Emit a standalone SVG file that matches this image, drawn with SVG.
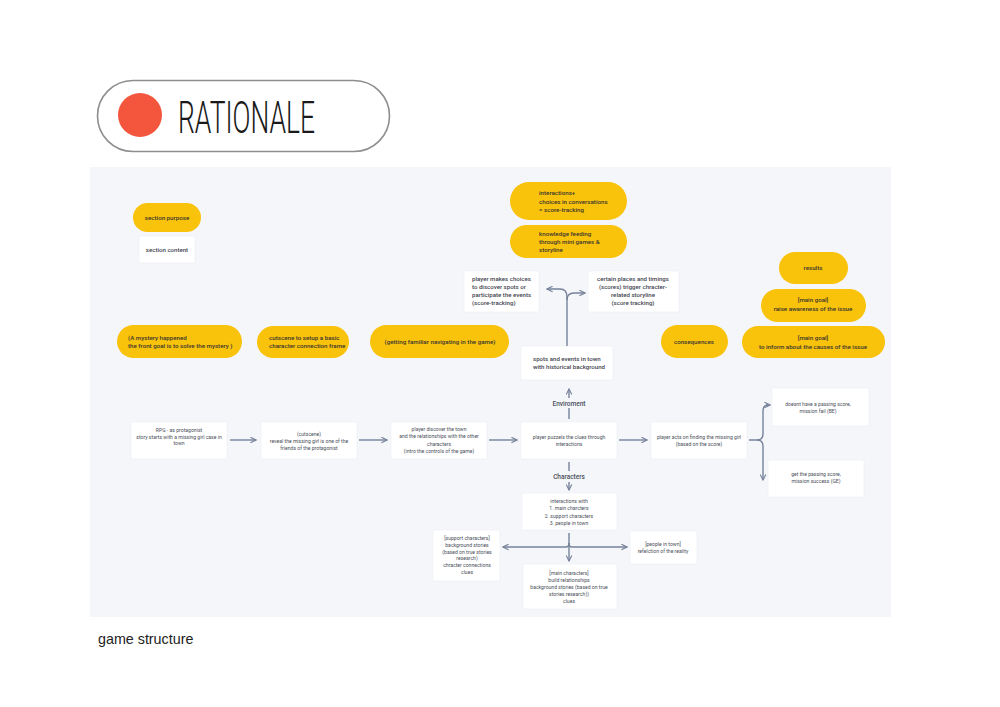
<svg xmlns="http://www.w3.org/2000/svg" width="1000" height="707" viewBox="0 0 1000 707">
<defs>
<style>
.pill{fill:#F9C20B;}
.box{fill:#FFFFFF;stroke:#ECEEF3;stroke-width:0.6;}
.pt{font-family:Roboto,"Liberation Sans",sans-serif;font-size:6.2px;fill:#3A3630;font-weight:500;}
.bt{font-family:Roboto,"Liberation Sans",sans-serif;font-size:5.1px;fill:#4A4F5A;}
.bt6{font-family:Roboto,"Liberation Sans",sans-serif;font-size:6.1px;fill:#3F4450;font-weight:500;}
.lbl{font-family:Roboto,"Liberation Sans",sans-serif;font-size:6.5px;fill:#4A4F5A;font-weight:500;}
.c{fill:none;stroke:#76839A;stroke-width:1.4;}
.ca{fill:none;stroke:#76839A;stroke-width:1.4;marker-end:url(#ah);}
</style>
<marker id="ah" viewBox="0 0 10 10" refX="9" refY="5" markerWidth="5" markerHeight="5" orient="auto" markerUnits="strokeWidth">
<path d="M1,1 L9,5 L1,9" fill="none" stroke="#76839A" stroke-width="1.6"/>
</marker>
</defs>
<rect x="0" y="0" width="1000" height="707" fill="#FFFFFF"/>

<g id="header">
<rect x="97.5" y="80.5" width="292" height="71" rx="35.5" fill="#FFFFFF" stroke="#8E8E8E" stroke-width="1.6"/>
<circle cx="140" cy="115" r="22" fill="#F4553D"/>
<text x="178" y="133" font-family="Roboto,'Liberation Sans',sans-serif" font-weight="300" font-size="44" fill="#1A1A1A" textLength="137" lengthAdjust="spacingAndGlyphs">RATIONALE</text>
</g>

<rect id="panel" x="90" y="167" width="801" height="450" fill="#F5F6FA"/>

<g id="section-purpose"><rect class="pill" x="133" y="203" width="68" height="29" rx="14.5"/><text class="pt" x="167" y="220" text-anchor="middle">section purpose</text></g>
<g id="section-content"><rect class="box" x="139" y="236" width="56" height="27"/><text class="bt6" x="167" y="252" text-anchor="middle">section content</text></g>

<g id="mystery"><rect class="pill" x="117" y="325" width="125" height="33" rx="16.5"/><text class="pt" x="128" y="340">(A mystery happened</text><text class="pt" x="128" y="348">the front goal is to solve the mystery )</text></g>
<g id="cutscene-pill"><rect class="pill" x="257" y="326" width="92" height="32" rx="16"/><text class="pt" x="269" y="340">cutscene to setup a basic</text><text class="pt" x="269" y="348">character connection frame</text></g>
<g id="familiar"><rect class="pill" x="370" y="325" width="139" height="33" rx="16.5"/><text class="pt" x="440" y="344" text-anchor="middle">(getting familiar navigating in the game)</text></g>

<g id="interactions-pill"><rect class="pill" x="510" y="182" width="117" height="38" rx="19"/><text class="pt" x="539" y="195">interactions+</text><text class="pt" x="539" y="203.5">choices in conversations</text><text class="pt" x="539" y="212">= score-tracking</text></g>
<g id="knowledge-pill"><rect class="pill" x="510" y="225" width="117" height="33" rx="16.5"/><text class="pt" x="539" y="236">knowledge feeding</text><text class="pt" x="539" y="244">through mini games &amp;</text><text class="pt" x="539" y="252">storyline</text></g>

<g id="player-choices"><rect class="box" x="464" y="271" width="75" height="41"/><text class="bt6" x="472" y="281">player makes choices</text><text class="bt6" x="472" y="289">to discover spots or</text><text class="bt6" x="472" y="297">participate the events</text><text class="bt6" x="472" y="305">(score-tracking)</text></g>
<g id="certain-places"><rect class="box" x="588" y="271" width="91" height="41"/><text class="bt6" x="633" y="281" text-anchor="middle">certain places and timings</text><text class="bt6" x="633" y="289" text-anchor="middle">(scores) trigger chracter-</text><text class="bt6" x="633" y="297" text-anchor="middle">related storyline</text><text class="bt6" x="633" y="305" text-anchor="middle">(score tracking)</text></g>

<g id="spots"><rect class="box" x="521" y="346" width="92" height="34"/><text class="bt6" x="533" y="361">spots and events in town</text><text class="bt6" x="533" y="369">with historical background</text></g>

<g id="results"><rect class="pill" x="779" y="252" width="69" height="32" rx="16"/><text class="pt" x="813" y="270" text-anchor="middle">results</text></g>
<g id="goal-awareness"><rect class="pill" x="761" y="289" width="105" height="33" rx="16.5"/><text class="pt" x="813" y="302" text-anchor="middle">[main goal]</text><text class="pt" x="813" y="311" text-anchor="middle">raise awareness of the issue</text></g>
<g id="goal-inform"><rect class="pill" x="742" y="326" width="143" height="32" rx="16"/><text class="pt" x="813" y="340" text-anchor="middle">[main goal]</text><text class="pt" x="813" y="349" text-anchor="middle">to inform about the causes of the issue</text></g>
<g id="consequences"><rect class="pill" x="661" y="325" width="67" height="33" rx="16.5"/><text class="pt" x="694" y="344" text-anchor="middle">consequences</text></g>

<g id="rpg"><rect class="box" x="131" y="422" width="96" height="37"/><text class="bt" x="179" y="431.5" text-anchor="middle">RPG - as protagonist</text><text class="bt" x="179" y="438.5" text-anchor="middle">story starts with a missing girl case in</text><text class="bt" x="179" y="445" text-anchor="middle">town</text></g>
<g id="cutscene"><rect class="box" x="261" y="422" width="96" height="37"/><text class="bt" x="309" y="435.5" text-anchor="middle">(cutscene)</text><text class="bt" x="309" y="442.5" text-anchor="middle">reveal the missing girl is one of the</text><text class="bt" x="309" y="449.5" text-anchor="middle">friends of the protagonist</text></g>
<g id="discover"><rect class="box" x="391" y="422" width="96" height="37"/><text class="bt" x="439" y="430.5" text-anchor="middle">player discover the town</text><text class="bt" x="439" y="438" text-anchor="middle">and the relationships with the other</text><text class="bt" x="439" y="445.5" text-anchor="middle">characters</text><text class="bt" x="439" y="453" text-anchor="middle">(intro the controls of the game)</text></g>
<g id="puzzle"><rect class="box" x="521" y="422" width="96" height="37"/><text class="bt" x="569" y="438.5" text-anchor="middle">player puzzels the clues through</text><text class="bt" x="569" y="445.5" text-anchor="middle">interactions</text></g>
<g id="acts"><rect class="box" x="651" y="422" width="96" height="37"/><text class="bt" x="699" y="438.5" text-anchor="middle">player acts on finding the missing girl</text><text class="bt" x="699" y="445.5" text-anchor="middle">(based on the score)</text></g>
<g id="fail"><rect class="box" x="772" y="388" width="97" height="38"/><text class="bt" x="818" y="405.5" text-anchor="middle">doesnt have a passing score,</text><text class="bt" x="818" y="412.5" text-anchor="middle">mission fail (BE)</text></g>
<g id="success"><rect class="box" x="768" y="460" width="96" height="37"/><text class="bt" x="816" y="475.5" text-anchor="middle">get the passing score,</text><text class="bt" x="816" y="483" text-anchor="middle">mission success (GE)</text></g>

<g id="interactions-with"><rect class="box" x="522" y="493" width="95" height="37"/><text class="bt" x="569" y="502.5" text-anchor="middle">interactions with</text><text class="bt" x="569" y="510" text-anchor="middle">1. main charcters</text><text class="bt" x="569" y="517.5" text-anchor="middle">2. support characters</text><text class="bt" x="569" y="524.5" text-anchor="middle">3. people in town</text></g>
<g id="support"><rect class="box" x="433" y="530" width="67" height="51"/><text class="bt" x="467" y="539.5" text-anchor="middle">[support characters]</text><text class="bt" x="467" y="546.5" text-anchor="middle">background stories</text><text class="bt" x="467" y="553.5" text-anchor="middle">(based on true stories</text><text class="bt" x="467" y="560" text-anchor="middle">research)</text><text class="bt" x="467" y="567" text-anchor="middle">chracter connections</text><text class="bt" x="467" y="574" text-anchor="middle">clues</text></g>
<g id="people"><rect class="box" x="630" y="531" width="67" height="33"/><text class="bt" x="663" y="545.5" text-anchor="middle">[people in town]</text><text class="bt" x="663" y="552.5" text-anchor="middle">refelction of the reality</text></g>
<g id="main-chars"><rect class="box" x="523" y="564" width="94" height="45"/><text class="bt" x="569" y="574.5" text-anchor="middle">[main characters]</text><text class="bt" x="569" y="582" text-anchor="middle">build relationships</text><text class="bt" x="569" y="589" text-anchor="middle">background stories (based on true</text><text class="bt" x="569" y="595.5" text-anchor="middle">stories research))</text><text class="bt" x="569" y="603" text-anchor="middle">clues</text></g>

<g id="connectors">
<path class="ca" d="M230,440 H256"/>
<path class="ca" d="M359,440 H387"/>
<path class="ca" d="M489,440 H517"/>
<path class="ca" d="M619,440 H647"/>
<path class="c" d="M749,440 H757 Q763,440 763,434 V411 Q763,405 768,405"/>
<path class="ca" d="M766,405 H770"/>
<path class="ca" d="M757,440 Q763,440 763,446 V480"/>
<path class="c" d="M569,419 V408"/>
<path class="ca" d="M569,398 V389"/>
<text class="lbl" x="569" y="405.5" text-anchor="middle">Enviroment</text>
<path class="c" d="M567,346 V297"/>
<path class="ca" d="M567,297 Q567,289 560,289 H547"/>
<path class="ca" d="M567,300 Q567,293 574,293 H585"/>
<path class="c" d="M569,462 V471"/>
<text class="lbl" x="569" y="478.5" text-anchor="middle">Characters</text>
<path class="ca" d="M569,482 V490"/>
<path class="ca" d="M569,533 V561"/>
<path class="ca" d="M566,547 H503"/>
<path class="ca" d="M572,547 H627"/>
<path class="c" d="M566,547 Q569,547 569,543"/>
<path class="c" d="M572,547 Q569,547 569,543"/>
</g>

<text id="caption" x="98" y="644" font-family="'Liberation Sans',Arial,sans-serif" font-size="14.3" fill="#222222">game structure</text>
</svg>
